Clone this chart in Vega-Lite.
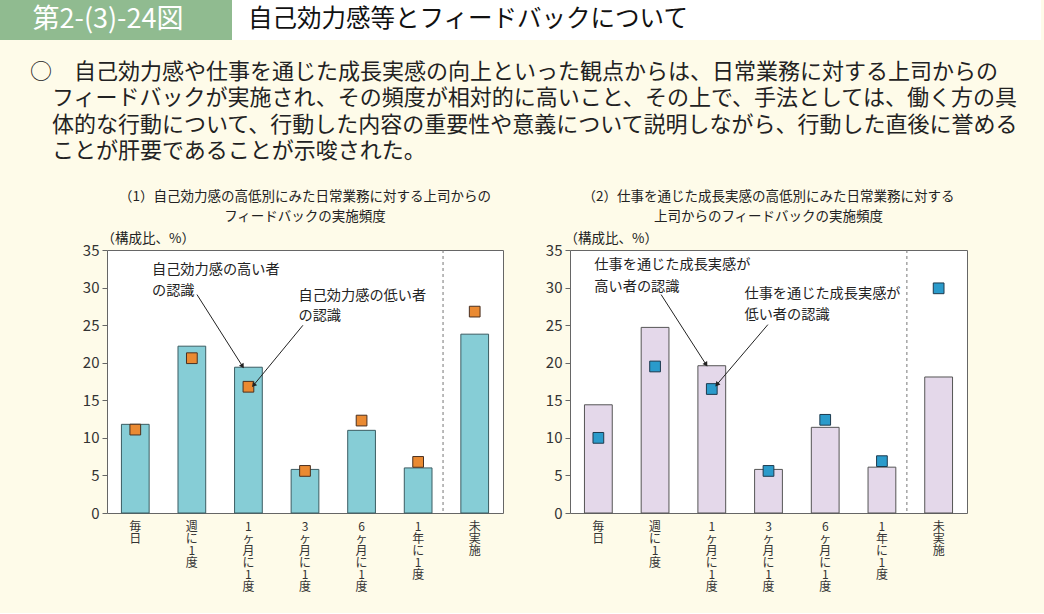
{
  "$schema": "https://vega.github.io/schema/vega-lite/v6.json",
  "background": "#fefbe9",
  "padding": {"left": 0, "top": 0, "right": 3, "bottom": 20},
  "config": {
    "font": "Noto Sans CJK JP",
    "view": {"stroke": null},
    "title": {"font": "Noto Sans CJK JP", "color": "#222", "fontWeight": "normal"},
    "axis": {"labelFont": "Noto Sans CJK JP", "titleFont": "Noto Sans CJK JP", "labelColor": "#333", "grid": false, "domain": false},
    "axisY": {"labelFontSize": 15, "tickCount": 8, "labelOverlap": false, "ticks": true, "tickSize": 5, "tickColor": "#666", "labelPadding": 3, "labelColor": "#333"}
  },
  "datasets": {
    "p1": [
      {"cat": "毎日", "high": 11.8, "low": 11.1},
      {"cat": "週に1度", "high": 22.2, "low": 20.6},
      {"cat": "1ヶ月に1度", "high": 19.4, "low": 16.8},
      {"cat": "3ヶ月に1度", "high": 5.8, "low": 5.6},
      {"cat": "6ヶ月に1度", "high": 11.0, "low": 12.3},
      {"cat": "1年に1度", "high": 6.0, "low": 6.8},
      {"cat": "未実施", "high": 23.8, "low": 26.8}
    ],
    "p2": [
      {"cat": "毎日", "high": 14.4, "low": 10.0},
      {"cat": "週に1度", "high": 24.7, "low": 19.5},
      {"cat": "1ヶ月に1度", "high": 19.6, "low": 16.5},
      {"cat": "3ヶ月に1度", "high": 5.8, "low": 5.6},
      {"cat": "6ヶ月に1度", "high": 11.4, "low": 12.4},
      {"cat": "1年に1度", "high": 6.1, "low": 6.9},
      {"cat": "未実施", "high": 18.1, "low": 29.9}
    ],
    "t1": [
      {"x": 0.795, "v": 32.4, "t": "自己効力感の高い者"},
      {"x": 0.795, "v": 29.5, "t": "の認識"},
      {"x": 3.385, "v": 28.9, "t": "自己効力感の低い者"},
      {"x": 3.385, "v": 26.2, "t": "の認識"}
    ],
    "a1": [
      {"id": "a", "x": 1.59, "v": 29.07, "x2": 2.396, "v2": 19.52},
      {"id": "b", "x": 3.463, "v": 24.98, "x2": 2.59, "v2": 17.0}
    ],
    "t2": [
      {"x": 0.429, "v": 33.06, "t": "仕事を通じた成長実感が"},
      {"x": 0.429, "v": 30.04, "t": "高い者の認識"},
      {"x": 3.076, "v": 29.2, "t": "仕事を通じた成長実感が"},
      {"x": 3.076, "v": 26.4, "t": "低い者の認識"}
    ],
    "a2": [
      {"id": "a", "x": 1.606, "v": 29.07, "x2": 2.4, "v2": 19.75},
      {"id": "b", "x": 3.489, "v": 25.07, "x2": 2.589, "v2": 17.09}
    ]
  },
  "spacing": 20,
  "vconcat": [
    {
      "spacing": 0,
      "hconcat": [
        {
          "width": 232, "height": 40,
          "view": {"fill": "#90bb90", "stroke": null},
          "data": {"values": [{"t": "第2-(3)-24図"}]},
          "mark": {"type": "text", "fontSize": 27, "color": "white", "dx": -8},
          "encoding": {"text": {"field": "t"}}
        },
        {
          "width": 472, "height": 40,
          "view": {"fill": "white", "stroke": null},
          "data": {"values": [{"t": "自己効力感等とフィードバックについて"}]},
          "mark": {"type": "text", "fontSize": 24.5, "color": "#111"},
          "encoding": {"text": {"field": "t"}}
        },
        {
          "width": 337, "height": 40,
          "view": {"fill": "white", "stroke": null},
          "data": {"values": [{"t": ""}]},
          "mark": {"type": "text"},
          "encoding": {"text": {"field": "t"}}
        }
      ]
    },
    {
      "spacing": 40,
      "title": {
        "text": [
          "○　自己効力感や仕事を通じた成長実感の向上といった観点からは、日常業務に対する上司からの",
          "\u200b　フィードバックが実施され、その頻度が相対的に高いこと、その上で、手法としては、働く方の具",
          "\u200b　体的な行動について、行動した内容の重要性や意義について説明しながら、行動した直後に誉める",
          "\u200b　ことが肝要であることが示唆された。"
        ],
        "anchor": "start", "fontSize": 22, "lineHeight": 26.5, "dx": 30, "offset": 26, "color": "#222"
      },
      "hconcat": [
        {
          "width": 41, "height": 10,
          "view": {"stroke": null},
          "data": {"values": [{"t": ""}]},
          "mark": {"type": "text"},
          "encoding": {"text": {"field": "t"}}
        },
        {
          "width": 396, "height": 263,
          "title": {"text": ["（1）自己効力感の高低別にみた日常業務に対する上司からの", "フィードバックの実施頻度"], "fontSize": 13.5, "lineHeight": 20, "anchor": "middle", "frame": "group", "offset": 8},
          "view": {"fill": "white", "stroke": "#666", "strokeWidth": 1},
          "resolve": {"scale": {"x": "independent"}},
          "layer": [
            {
              "data": {"name": "p1"},
              "layer": [
                {
                  "mark": {"type": "bar", "fill": "#86cdd6", "stroke": "#3b5c62", "strokeWidth": 1},
                  "encoding": {
                    "x": {"field": "cat", "type": "nominal", "sort": null, "scale": {"paddingInner": 0.51, "paddingOuter": 0.255},
                      "axis": {"title": null, "ticks": false, "domain": false, "labelAngle": 0, "labelExpr": "split(datum.label, '')", "labelBaseline": "top", "labelAlign": "center", "labelFontSize": 12, "labelLineHeight": 12, "labelPadding": 8, "labelColor": "#333"}},
                    "y": {"field": "high", "type": "quantitative", "scale": {"domain": [0, 35], "nice": false},
                      "axis": {"title": "（構成比、%）", "titleAngle": 0, "titleAlign": "left", "titleBaseline": "middle", "titleX": -6, "titleY": -12, "titleFontSize": 13.5, "titleFontWeight": "normal", "titleColor": "#222", "values": [0, 5, 10, 15, 20, 25, 30, 35], "labelFontSize": 15, "labelOverlap": false}}
                  }
                },
                {
                  "mark": {"type": "square", "size": 115, "fill": "#ea8a32", "stroke": "#4a3020", "strokeWidth": 1, "opacity": 1},
                  "encoding": {
                    "x": {"field": "cat", "type": "nominal", "sort": null},
                    "y": {"field": "low", "type": "quantitative", "scale": {"domain": [0, 35], "nice": false}}
                  }
                }
              ]
            },
            {
              "layer": [
                {
                  "data": {"values": [{}]},
                  "mark": {"type": "rule", "strokeDash": [3, 3], "color": "#777", "strokeWidth": 1},
                  "encoding": {"x": {"datum": 5.94, "type": "quantitative", "scale": {"domain": [0, 7], "nice": false, "zero": false}, "axis": null}}
                },
                {
                  "data": {"name": "t1"},
                  "mark": {"type": "text", "align": "left", "baseline": "middle", "fontSize": 14.2, "color": "#222"},
                  "encoding": {
                    "x": {"field": "x", "type": "quantitative", "scale": {"domain": [0, 7], "nice": false, "zero": false}, "axis": null},
                    "y": {"field": "v", "type": "quantitative", "scale": {"domain": [0, 35], "nice": false}},
                    "text": {"field": "t"}
                  }
                },
                {
                  "data": {"name": "a1"},
                  "mark": {"type": "rule", "color": "#222", "strokeWidth": 1},
                  "encoding": {
                    "x": {"field": "x", "type": "quantitative", "scale": {"domain": [0, 7], "nice": false, "zero": false}, "axis": null},
                    "y": {"field": "v", "type": "quantitative", "scale": {"domain": [0, 35], "nice": false}},
                    "x2": {"field": "x2"},
                    "y2": {"field": "v2"}
                  }
                },
                {
                  "data": {"name": "a1"},
                  "transform": [{"filter": "datum.id == 'a'"}],
                  "mark": {"type": "point", "shape": "triangle-up", "filled": true, "size": 30, "color": "#222", "opacity": 1, "angle": 147.5},
                  "encoding": {
                    "x": {"field": "x2", "type": "quantitative", "scale": {"domain": [0, 7], "nice": false, "zero": false}, "axis": null},
                    "y": {"field": "v2", "type": "quantitative", "scale": {"domain": [0, 35], "nice": false}}
                  }
                },
                {
                  "data": {"name": "a1"},
                  "transform": [{"filter": "datum.id == 'b'"}],
                  "mark": {"type": "point", "shape": "triangle-up", "filled": true, "size": 30, "color": "#222", "opacity": 1, "angle": 219.5},
                  "encoding": {
                    "x": {"field": "x2", "type": "quantitative", "scale": {"domain": [0, 7], "nice": false, "zero": false}, "axis": null},
                    "y": {"field": "v2", "type": "quantitative", "scale": {"domain": [0, 35], "nice": false}}
                  }
                }
              ]
            }
          ]
        },
        {
          "width": 397, "height": 263,
          "title": {"text": ["（2）仕事を通じた成長実感の高低別にみた日常業務に対する", "上司からのフィードバックの実施頻度"], "fontSize": 13.5, "lineHeight": 20, "anchor": "middle", "frame": "group", "offset": 8},
          "view": {"fill": "white", "stroke": "#666", "strokeWidth": 1},
          "resolve": {"scale": {"x": "independent"}},
          "layer": [
            {
              "data": {"name": "p2"},
              "layer": [
                {
                  "mark": {"type": "bar", "fill": "#e4d8ea", "stroke": "#555", "strokeWidth": 1},
                  "encoding": {
                    "x": {"field": "cat", "type": "nominal", "sort": null, "scale": {"paddingInner": 0.51, "paddingOuter": 0.255},
                      "axis": {"title": null, "ticks": false, "domain": false, "labelAngle": 0, "labelExpr": "split(datum.label, '')", "labelBaseline": "top", "labelAlign": "center", "labelFontSize": 12, "labelLineHeight": 12, "labelPadding": 8, "labelColor": "#333"}},
                    "y": {"field": "high", "type": "quantitative", "scale": {"domain": [0, 35], "nice": false},
                      "axis": {"title": "（構成比、%）", "titleAngle": 0, "titleAlign": "left", "titleBaseline": "middle", "titleX": -6, "titleY": -12, "titleFontSize": 13.5, "titleFontWeight": "normal", "titleColor": "#222", "values": [0, 5, 10, 15, 20, 25, 30, 35], "labelFontSize": 15, "labelOverlap": false}}
                  }
                },
                {
                  "mark": {"type": "square", "size": 115, "fill": "#2a9bcb", "stroke": "#1d3a4e", "strokeWidth": 1, "opacity": 1},
                  "encoding": {
                    "x": {"field": "cat", "type": "nominal", "sort": null},
                    "y": {"field": "low", "type": "quantitative", "scale": {"domain": [0, 35], "nice": false}}
                  }
                }
              ]
            },
            {
              "layer": [
                {
                  "data": {"values": [{}]},
                  "mark": {"type": "rule", "strokeDash": [3, 3], "color": "#777", "strokeWidth": 1},
                  "encoding": {"x": {"datum": 5.94, "type": "quantitative", "scale": {"domain": [0, 7], "nice": false, "zero": false}, "axis": null}}
                },
                {
                  "data": {"name": "t2"},
                  "mark": {"type": "text", "align": "left", "baseline": "middle", "fontSize": 14.2, "color": "#222"},
                  "encoding": {
                    "x": {"field": "x", "type": "quantitative", "scale": {"domain": [0, 7], "nice": false, "zero": false}, "axis": null},
                    "y": {"field": "v", "type": "quantitative", "scale": {"domain": [0, 35], "nice": false}},
                    "text": {"field": "t"}
                  }
                },
                {
                  "data": {"name": "a2"},
                  "mark": {"type": "rule", "color": "#222", "strokeWidth": 1},
                  "encoding": {
                    "x": {"field": "x", "type": "quantitative", "scale": {"domain": [0, 7], "nice": false, "zero": false}, "axis": null},
                    "y": {"field": "v", "type": "quantitative", "scale": {"domain": [0, 35], "nice": false}},
                    "x2": {"field": "x2"},
                    "y2": {"field": "v2"}
                  }
                },
                {
                  "data": {"name": "a2"},
                  "transform": [{"filter": "datum.id == 'a'"}],
                  "mark": {"type": "point", "shape": "triangle-up", "filled": true, "size": 30, "color": "#222", "opacity": 1, "angle": 147.3},
                  "encoding": {
                    "x": {"field": "x2", "type": "quantitative", "scale": {"domain": [0, 7], "nice": false, "zero": false}, "axis": null},
                    "y": {"field": "v2", "type": "quantitative", "scale": {"domain": [0, 35], "nice": false}}
                  }
                },
                {
                  "data": {"name": "a2"},
                  "transform": [{"filter": "datum.id == 'b'"}],
                  "mark": {"type": "point", "shape": "triangle-up", "filled": true, "size": 30, "color": "#222", "opacity": 1, "angle": 220.4},
                  "encoding": {
                    "x": {"field": "x2", "type": "quantitative", "scale": {"domain": [0, 7], "nice": false, "zero": false}, "axis": null},
                    "y": {"field": "v2", "type": "quantitative", "scale": {"domain": [0, 35], "nice": false}}
                  }
                }
              ]
            }
          ]
        }
      ]
    }
  ]
}
